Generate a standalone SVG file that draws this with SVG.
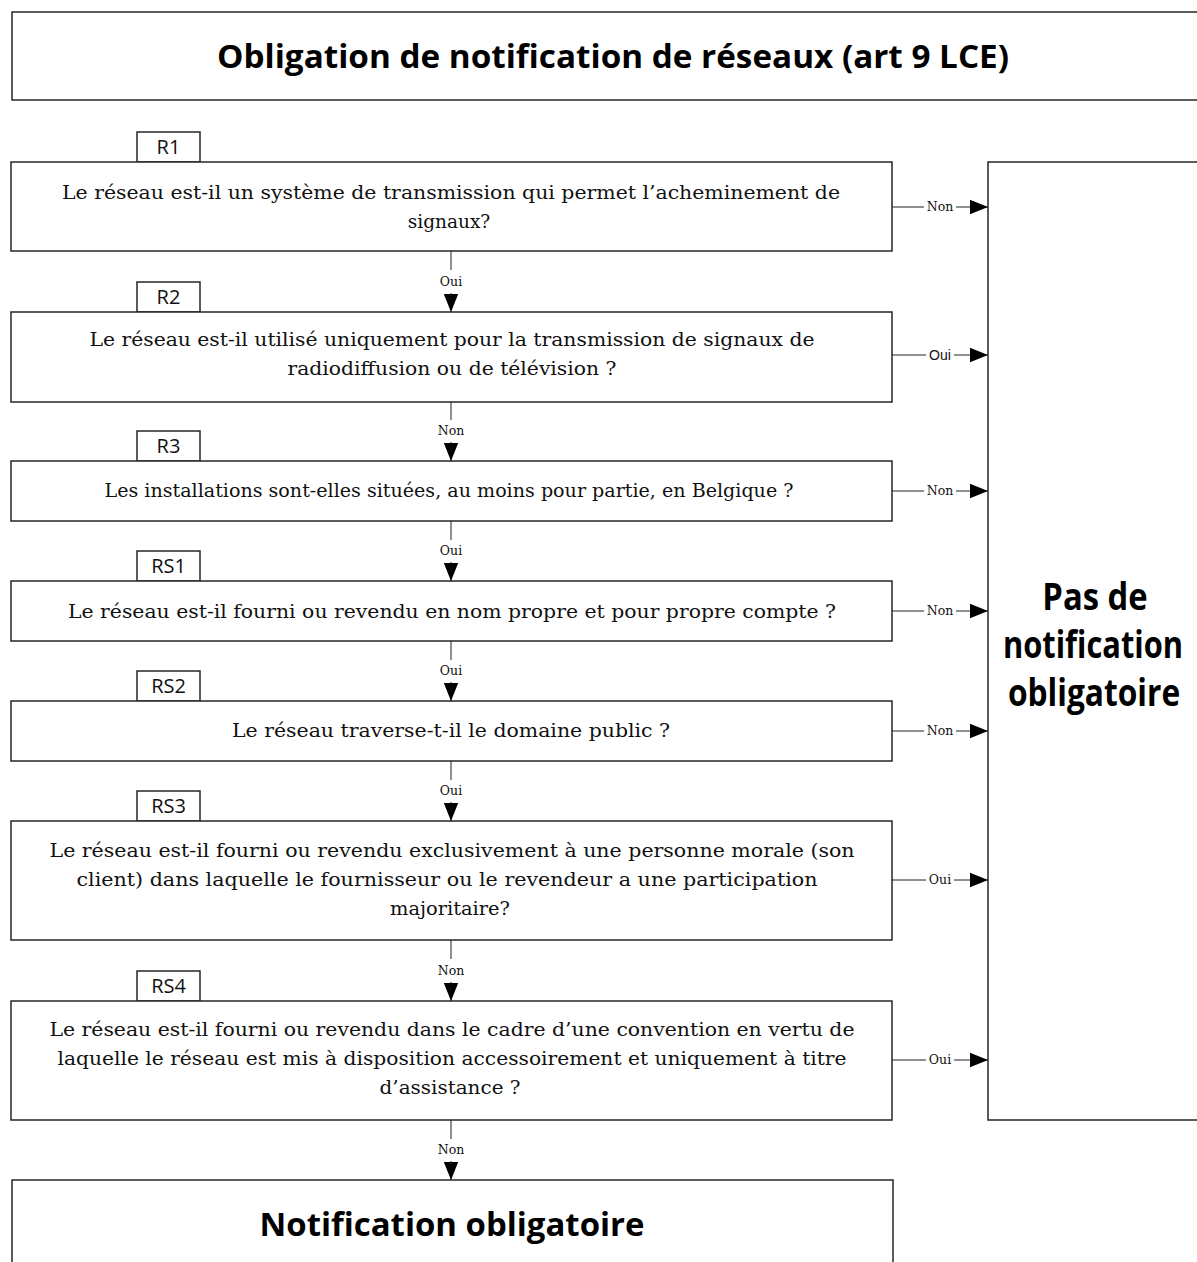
<svg xmlns="http://www.w3.org/2000/svg" width="1197" height="1262" viewBox="0 0 1197 1262">
<style>
.box{fill:#fff;stroke:#262626;stroke-width:1.5}
.q{font-family:"DejaVu Serif","Liberation Serif",serif;font-size:18.5px;fill:#111;text-anchor:middle}
.tag{font-family:"Open Sans","Liberation Sans",sans-serif;font-size:20px;fill:#111;text-anchor:middle}
.big{font-family:"Open Sans","Liberation Sans",sans-serif;font-weight:bold;fill:#000;text-anchor:middle}
.lbl{font-family:"DejaVu Serif","Liberation Serif",serif;font-size:12.5px;fill:#111;text-anchor:middle}
.lbls{font-family:"Liberation Sans",Arial,sans-serif;font-size:14px;fill:#111;text-anchor:middle}
.ln{stroke:#222;stroke-width:1;fill:none}
</style>
<defs>
<marker id="ah" viewBox="0 0 10 10" refX="10" refY="5" markerWidth="18" markerHeight="18" markerUnits="userSpaceOnUse" orient="auto">
<path d="M0,1 L10,5 L0,9 Z" fill="#000"/>
</marker>
</defs>
<g id="title">
<rect class="box" x="12" y="12" width="1200" height="88"/>
<text class="big" x="613" y="68" font-size="33" textLength="792" lengthAdjust="spacingAndGlyphs">Obligation de notification de réseaux (art 9 LCE)</text>
</g>
<g id="R1">
<rect class="box" x="137" y="132" width="63" height="30"/>
<text class="tag" x="168.5" y="154">R1</text>
<rect class="box" x="11" y="162" width="881" height="89"/>
<text class="q" x="451" y="199" textLength="778" lengthAdjust="spacingAndGlyphs">Le réseau est-il un système de transmission qui permet l’acheminement de</text>
<text class="q" x="449" y="228">signaux?</text>
</g>
<g id="R2">
<rect class="box" x="137" y="282" width="63" height="30"/>
<text class="tag" x="168.5" y="304">R2</text>
<rect class="box" x="11" y="312" width="881" height="90"/>
<text class="q" x="452" y="346" textLength="725" lengthAdjust="spacingAndGlyphs">Le réseau est-il utilisé uniquement pour la transmission de signaux de</text>
<text class="q" x="452" y="375" textLength="329" lengthAdjust="spacingAndGlyphs">radiodiffusion ou de télévision ?</text>
</g>
<g id="R3">
<rect class="box" x="137" y="431" width="63" height="30"/>
<text class="tag" x="168.5" y="453">R3</text>
<rect class="box" x="11" y="461" width="881" height="60"/>
<text class="q" x="449" y="497" textLength="689" lengthAdjust="spacingAndGlyphs">Les installations sont-elles situées, au moins pour partie, en Belgique ?</text>
</g>
<g id="RS1">
<rect class="box" x="137" y="551" width="63" height="30"/>
<text class="tag" x="168.5" y="573">RS1</text>
<rect class="box" x="11" y="581" width="881" height="60"/>
<text class="q" x="452" y="618" textLength="768" lengthAdjust="spacingAndGlyphs">Le réseau est-il fourni ou revendu en nom propre et pour propre compte ?</text>
</g>
<g id="RS2">
<rect class="box" x="137" y="671" width="63" height="30"/>
<text class="tag" x="168.5" y="693">RS2</text>
<rect class="box" x="11" y="701" width="881" height="60"/>
<text class="q" x="451" y="737" textLength="438" lengthAdjust="spacingAndGlyphs">Le réseau traverse-t-il le domaine public ?</text>
</g>
<g id="RS3">
<rect class="box" x="137" y="791" width="63" height="30"/>
<text class="tag" x="168.5" y="813">RS3</text>
<rect class="box" x="11" y="821" width="881" height="119"/>
<text class="q" x="452" y="857" textLength="805" lengthAdjust="spacingAndGlyphs">Le réseau est-il fourni ou revendu exclusivement à une personne morale (son</text>
<text class="q" x="447" y="886" textLength="741" lengthAdjust="spacingAndGlyphs">client) dans laquelle le fournisseur ou le revendeur a une participation</text>
<text class="q" x="450" y="915" textLength="120" lengthAdjust="spacingAndGlyphs">majoritaire?</text>
</g>
<g id="RS4">
<rect class="box" x="137" y="971" width="63" height="30"/>
<text class="tag" x="168.5" y="993">RS4</text>
<rect class="box" x="11" y="1001" width="881" height="119"/>
<text class="q" x="452" y="1036" textLength="805" lengthAdjust="spacingAndGlyphs">Le réseau est-il fourni ou revendu dans le cadre d’une convention en vertu de</text>
<text class="q" x="452" y="1065" textLength="789" lengthAdjust="spacingAndGlyphs">laquelle le réseau est mis à disposition accessoirement et uniquement à titre</text>
<text class="q" x="450" y="1094" textLength="141" lengthAdjust="spacingAndGlyphs">d’assistance ?</text>
</g>
<g id="pas-notification">
<rect class="box" x="988" y="162" width="230" height="958"/>
<text class="big" transform="translate(1095,610) scale(0.87,1)" x="0" y="0" font-size="37" textLength="121" lengthAdjust="spacingAndGlyphs">Pas de</text>
<text class="big" transform="translate(1093,658) scale(0.87,1)" x="0" y="0" font-size="37" textLength="207" lengthAdjust="spacingAndGlyphs">notification</text>
<text class="big" transform="translate(1094,706) scale(0.87,1)" x="0" y="0" font-size="37" textLength="198" lengthAdjust="spacingAndGlyphs">obligatoire</text>
</g>
<g id="notification">
<rect class="box" x="12" y="1180" width="881" height="100"/>
<text class="big" x="452" y="1236" font-size="33" textLength="385" lengthAdjust="spacingAndGlyphs">Notification obligatoire</text>
</g>
<g id="connectors">
<path class="ln" d="M451,251 V270"/><text class="lbl" x="451" y="286">Oui</text><path class="ln" d="M451,293 V312" marker-end="url(#ah)"/>
<path class="ln" d="M451,402 V420"/><text class="lbl" x="451" y="435">Non</text><path class="ln" d="M451,442 V461" marker-end="url(#ah)"/>
<path class="ln" d="M451,521 V540"/><text class="lbl" x="451" y="555">Oui</text><path class="ln" d="M451,562 V581" marker-end="url(#ah)"/>
<path class="ln" d="M451,641 V660"/><text class="lbl" x="451" y="675">Oui</text><path class="ln" d="M451,682 V701" marker-end="url(#ah)"/>
<path class="ln" d="M451,761 V780"/><text class="lbl" x="451" y="795">Oui</text><path class="ln" d="M451,802 V821" marker-end="url(#ah)"/>
<path class="ln" d="M451,940 V959"/><text class="lbl" x="451" y="975">Non</text><path class="ln" d="M451,982 V1001" marker-end="url(#ah)"/>
<path class="ln" d="M451,1120 V1139"/><text class="lbl" x="451" y="1154">Non</text><path class="ln" d="M451,1161 V1180" marker-end="url(#ah)"/>
<path class="ln" d="M892,207 H924"/><text class="lbl" x="940" y="211">Non</text><path class="ln" d="M956,207 H988" marker-end="url(#ah)"/>
<path class="ln" d="M892,355 H926"/><text class="lbls" x="940" y="360">Oui</text><path class="ln" d="M954,355 H988" marker-end="url(#ah)"/>
<path class="ln" d="M892,491 H924"/><text class="lbl" x="940" y="495">Non</text><path class="ln" d="M956,491 H988" marker-end="url(#ah)"/>
<path class="ln" d="M892,611 H924"/><text class="lbl" x="940" y="615">Non</text><path class="ln" d="M956,611 H988" marker-end="url(#ah)"/>
<path class="ln" d="M892,731 H924"/><text class="lbl" x="940" y="735">Non</text><path class="ln" d="M956,731 H988" marker-end="url(#ah)"/>
<path class="ln" d="M892,880 H926"/><text class="lbl" x="940" y="884">Oui</text><path class="ln" d="M954,880 H988" marker-end="url(#ah)"/>
<path class="ln" d="M892,1060 H926"/><text class="lbl" x="940" y="1064">Oui</text><path class="ln" d="M954,1060 H988" marker-end="url(#ah)"/>
</g>
</svg>
